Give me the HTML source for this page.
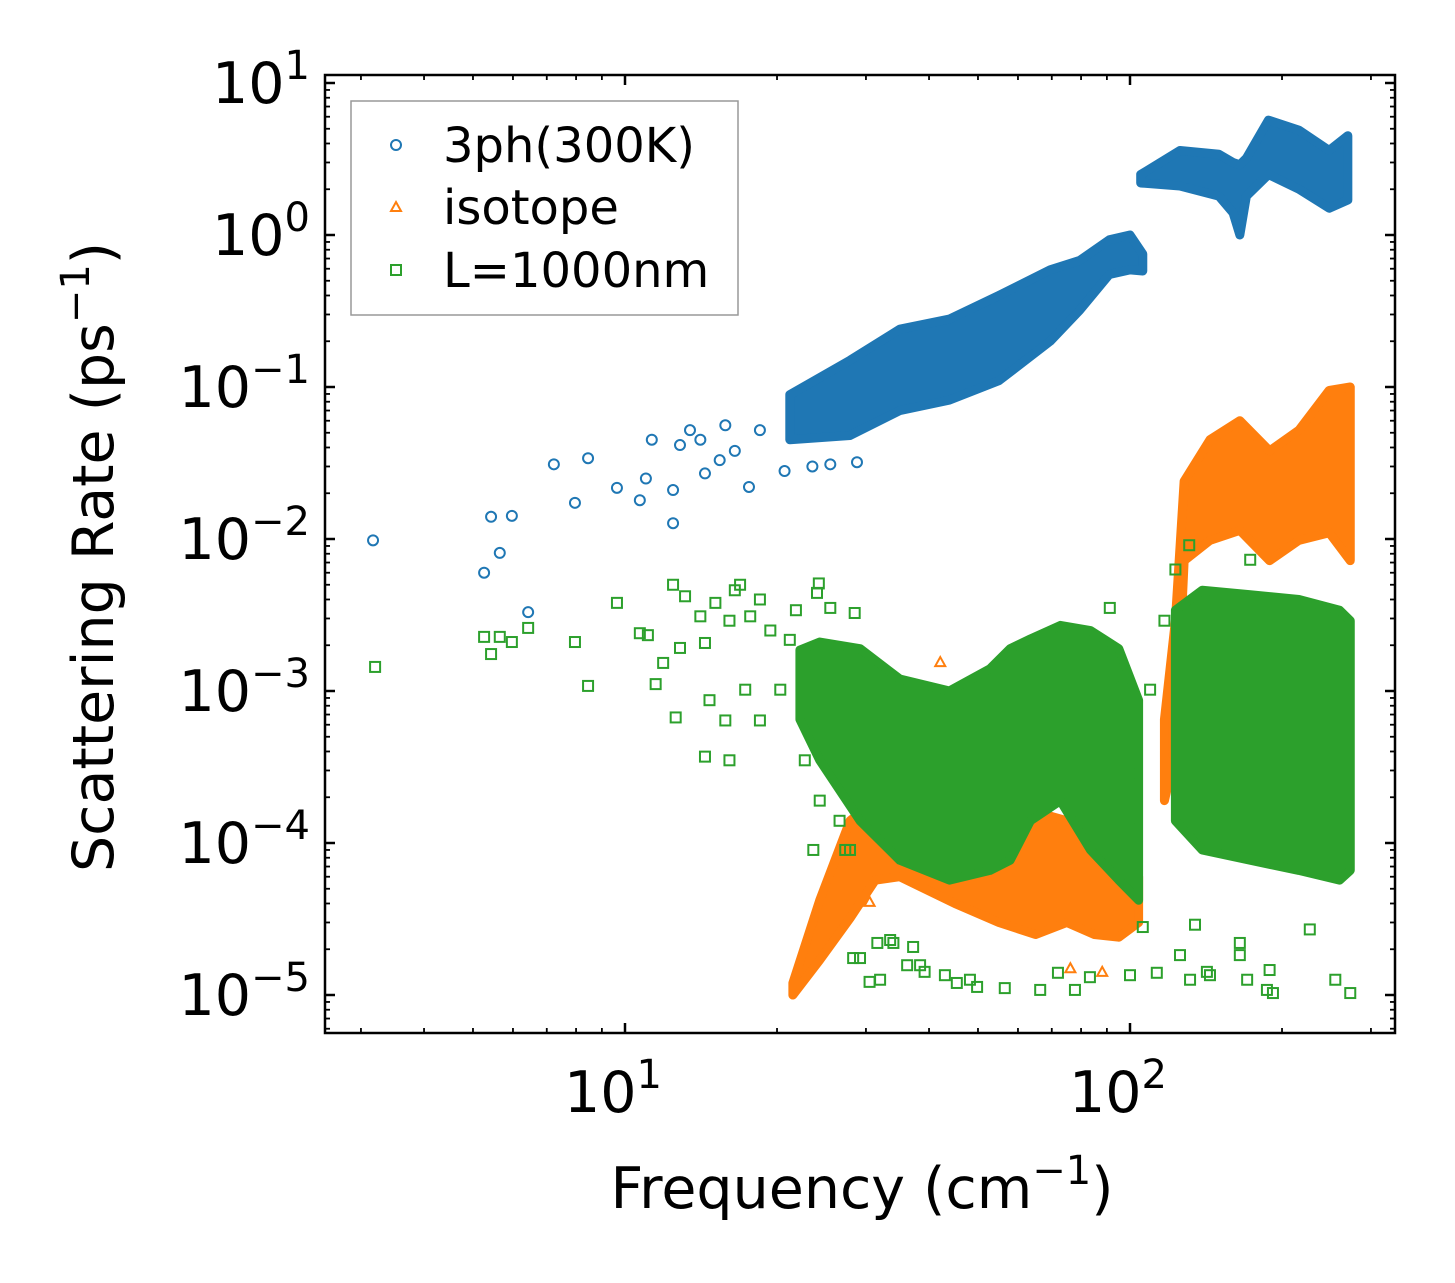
<!DOCTYPE html>
<html><head><meta charset="utf-8"><style>
html,body{margin:0;padding:0;background:#fff}
svg{display:block;font-family:"DejaVu Sans","Liberation Sans",sans-serif}
</style></head><body>
<svg id="chart" width="1455" height="1283" viewBox="0 0 1455 1283">
<g id="bands"></g>
<g id="pts"></g>
<rect x="325" y="75" width="1070" height="958" fill="none" stroke="#000" stroke-width="2.5"/>
<g id="ticks"></g>
<g id="labels" font-size="57"></g>
<text x="862" y="1208" font-size="57" text-anchor="middle">Frequency (cm<tspan font-size="40" dy="-24">−1</tspan><tspan dy="24">)</tspan></text>
<text transform="translate(113,557) rotate(-90)" font-size="57" text-anchor="middle">Scattering Rate (ps<tspan font-size="40" dy="-24">−1</tspan><tspan dy="24">)</tspan></text>
<g>
<rect x="351" y="101" width="387" height="214" fill="#fff" stroke="#999" stroke-width="1.5"/>
<circle cx="396" cy="145" r="5" fill="none" stroke="#1f77b4" stroke-width="2"/>
<text x="443" y="162" font-size="48">3ph(300K)</text>
<polygon points="396,202 401,211 391,211" fill="none" stroke="#ff7f0e" stroke-width="2"/>
<text x="443" y="224" font-size="48">isotope</text>
<rect x="391" y="265" width="10" height="10" fill="none" stroke="#2ca02c" stroke-width="2"/>
<text x="443" y="287" font-size="48">L=1000nm</text>
</g>
</svg>
<script>
// ---- data (frequency cm^-1, rate ps^-1) ----
const blueBand1F=[21.2,27.9,35,43.9,55,69.5,79.5,91,100,106];
const blueBand1Hi=[0.089,0.15,0.24,0.28,0.40,0.59,0.68,0.93,1.0,0.75];
const blueBand1Lo=[0.045,0.048,0.07,0.082,0.11,0.2,0.32,0.55,0.59,0.58];
const blueBand2F=[105,125.6,150,160,165,170,188,216,248,270];
const blueBand2Hi=[2.5,3.6,3.4,3.0,2.9,3.2,5.7,4.9,3.6,4.5];
const blueBand2Lo=[2.2,2.1,1.8,1.4,1.0,1.8,2.5,2.0,1.5,1.7];
const blueF=[3.17,5.26,5.43,5.65,5.97,6.43,7.23,7.96,8.45,9.64,10.7,11.0,11.3,12.45,12.45,12.85,14.1,14.4,15.4,16.5,17.6,18.5,20.7,23.5,25.5,28.8,13.45,15.8];
const blueV=[0.0098,0.006,0.014,0.0081,0.0142,0.0033,0.031,0.0173,0.034,0.0217,0.018,0.025,0.045,0.0127,0.021,0.0415,0.045,0.027,0.033,0.038,0.022,0.052,0.028,0.030,0.031,0.032,0.052,0.056];
const orangeBand1F=[21.5,24.3,27.9,31.3,35,45,55,65,75,85,95,104];
const orangeBand1Hi=[1.2e-5,4.2e-5,1.4e-4,1.9e-4,2e-4,1.6e-4,1.4e-4,1.6e-4,1.4e-4,1.5e-4,1.2e-4,6e-5];
const orangeBand1Lo=[1e-5,1.7e-5,3.2e-5,5.7e-5,6e-5,4e-5,3e-5,2.5e-5,3e-5,2.5e-5,2.4e-5,3e-5];
const orangeBand2F=[117,123,128,144,165,189,216,248,273];
const orangeBand2Hi=[6.5e-4,0.0029,0.024,0.045,0.06,0.038,0.052,0.095,0.1];
const orangeBand2Lo=[1.9e-4,4e-4,0.0072,0.0098,0.0114,0.0072,0.0098,0.011,0.0072];
const orangeF=[42.1,92.3,90.6,88.1,76.2,30.5];
const orangeV=[0.00155,1.38e-4,9e-5,1.42e-5,1.5e-5,4.1e-5];
const greenBand1F=[22.2,24.3,29.2,35,43.9,52.8,57.9,63.5,72.8,83.5,95,104];
const greenBand1Hi=[0.00186,0.0021,0.0019,0.0012,0.0010,0.0014,0.0019,0.0022,0.0027,0.0025,0.0019,0.00087];
const greenBand1Lo=[6.5e-4,3.5e-4,1.4e-4,7.7e-5,5.7e-5,6.6e-5,7.7e-5,1.4e-4,1.9e-4,9e-5,5.7e-5,4.2e-5];
const greenBand2F=[123,139,173,216,260,273];
const greenBand2Hi=[0.0034,0.0046,0.0043,0.004,0.0034,0.0029];
const greenBand2Lo=[1.4e-4,9e-5,7.7e-5,6.6e-5,5.7e-5,6.6e-5];
const greenF=[3.2,5.26,5.43,5.65,5.97,6.43,7.96,8.45,9.64,10.7,11.1,11.5,11.9,12.45,12.6,12.85,13.15,14.1,14.4,14.7,15.1,15.8,16.1,16.5,16.9,17.3,17.7,18.5,18.5,19.4,20.3,21.2,21.8,16.1,14.4,24.2,27.3,29.2,33.5,32.0,38.4,43.0,48.2,56.5,77.8,100,134.5,144,165,189,227,255,273,109.6,117,123,131,173,
 24.0,25.5,28.5,23.6,27.9,28.3,30.5,36.2,39.2,45.4,49.8,66.4,72.0,83.3,106,113,125.6,131.5,142,165,170.6,186.7,191.9,101.4,92.5,91.2,100.9,34.0,31.6,37.2,22.7,24.3,26.6];
const greenV=[0.00144,0.00227,0.00175,0.00227,0.0021,0.0026,0.0021,0.00108,0.0038,0.0024,0.00233,0.00111,0.00153,0.005,0.00067,0.00192,0.0042,0.0031,0.00207,0.00087,0.0038,0.00064,0.0029,0.0046,0.005,0.00102,0.0031,0.00064,0.004,0.0025,0.00102,0.00217,0.0034,0.00035,0.00037,0.0051,9e-5,1.75e-5,2.3e-5,1.26e-5,1.57e-5,1.35e-5,1.26e-5,1.11e-5,1.08e-5,1.35e-5,2.9e-5,1.35e-5,1.83e-5,1.46e-5,2.7e-5,1.26e-5,1.03e-5,0.00102,0.0029,0.0063,0.0091,0.0073,
 0.00442,0.00352,0.00326,9e-5,9e-5,1.75e-5,1.22e-5,1.57e-5,1.42e-5,1.2e-5,1.13e-5,1.08e-5,1.4e-5,1.31e-5,2.8e-5,1.4e-5,1.83e-5,1.26e-5,1.42e-5,2.2e-5,1.26e-5,1.08e-5,1.03e-5,1.22e-4,0.00106,0.00352,2.93e-4,2.2e-5,2.2e-5,2.07e-5,3.5e-4,1.9e-4,1.4e-4];
const xTickMajor=[10,100];
const xTickLabels=["1","2"];
const yTickMajor=[1e1,1e0,1e-1,1e-2,1e-3,1e-4,1e-5];
const yTickLabels=["1","0","−1","−2","−3","−4","−5"];

// ---- scales ----
const X=f=>625+505*(Math.log10(f)-1);
const Y=v=>235-152*Math.log10(v);
const NS="http://www.w3.org/2000/svg";
function mk(tag,parent){const e=document.createElementNS(NS,tag);parent.appendChild(e);return e;}
const C={b:"#1f77b4",o:"#ff7f0e",g:"#2ca02c"};
const bands=document.getElementById('bands'),pts=document.getElementById('pts');

function band(F,H,L,col,name){
  const p=mk('polygon',bands);
  const up=F.map((f,i)=>X(f)+","+Y(H[i]));
  const dn=F.map((f,i)=>X(f)+","+Y(L[i])).reverse();
  p.setAttribute('points',up.concat(dn).join(' '));
  p.setAttribute('fill',col);p.setAttribute('stroke',col);p.setAttribute('stroke-width','9');p.setAttribute('stroke-linejoin','round');
  
  
}
band(orangeBand1F,orangeBand1Hi,orangeBand1Lo,C.o,'isotope-band-low');
band(orangeBand2F,orangeBand2Hi,orangeBand2Lo,C.o,'isotope-band-high');
orangeF.forEach((f,i)=>{const t=mk('polygon',bands);const x=X(f),y=Y(orangeV[i]);
  t.setAttribute('points',x+','+(y-5)+' '+(x+5)+','+(y+4)+' '+(x-5)+','+(y+4));
  t.setAttribute('fill','none');t.setAttribute('stroke',C.o);t.setAttribute('stroke-width','2');
  
  
});
band(greenBand1F,greenBand1Hi,greenBand1Lo,C.g,'boundary-band-low');
band(greenBand2F,greenBand2Hi,greenBand2Lo,C.g,'boundary-band-high');
band(blueBand1F,blueBand1Hi,blueBand1Lo,C.b,'3ph-band-low');
band(blueBand2F,blueBand2Hi,blueBand2Lo,C.b,'3ph-band-high');

greenF.forEach((f,i)=>{const r=mk('rect',pts);
  r.setAttribute('x',X(f)-5);r.setAttribute('y',Y(greenV[i])-5);r.setAttribute('width',10);r.setAttribute('height',10);
  r.setAttribute('fill','none');r.setAttribute('stroke',C.g);r.setAttribute('stroke-width','2');
  
  
});
blueF.forEach((f,i)=>{const c=mk('circle',pts);
  c.setAttribute('cx',X(f));c.setAttribute('cy',Y(blueV[i]));c.setAttribute('r',5);
  c.setAttribute('fill','none');c.setAttribute('stroke',C.b);c.setAttribute('stroke-width','2');
  
  
});

// ---- ticks ----
const tk=document.getElementById('ticks'),lb=document.getElementById('labels');
function line(x1,y1,x2,y2,w){const l=mk('line',tk);l.setAttribute('x1',x1);l.setAttribute('y1',y1);l.setAttribute('x2',x2);l.setAttribute('y2',y2);l.setAttribute('stroke','#000');l.setAttribute('stroke-width',w);
  
  }
for(let d=0;d<=2;d++){for(let m=1;m<=9;m++){const f=m*Math.pow(10,d);if(f<2.6||f>330)continue;const x=X(f);const L=m===1?10:5;const w=m===1?2.5:1.8;
  line(x,1033,x,1033-L,w);line(x,75,x,75+L,w);}}
for(let d=-6;d<=1;d++){for(let m=1;m<=9;m++){const v=m*Math.pow(10,d);const y=Y(v);if(y<75||y>1033)continue;const L=m===1?10:5;const w=m===1?2.5:1.8;
  line(325,y,325+L,y,w);line(1395,y,1395-L,y,w);}}
xTickMajor.forEach((f,i)=>{const t=mk('text',lb);t.setAttribute('x',X(f)-12);t.setAttribute('y',1112);t.setAttribute('text-anchor','middle');
  t.innerHTML='10<tspan font-size="40" dy="-24">'+xTickLabels[i]+'</tspan>';
  
  });
yTickMajor.forEach((v,i)=>{const t=mk('text',lb);t.setAttribute('x',310);t.setAttribute('y',Y(v)+20);t.setAttribute('text-anchor','end');
  t.innerHTML='10<tspan font-size="40" dy="-24">'+yTickLabels[i]+'</tspan>';
  
  });
</script>
</body></html>
